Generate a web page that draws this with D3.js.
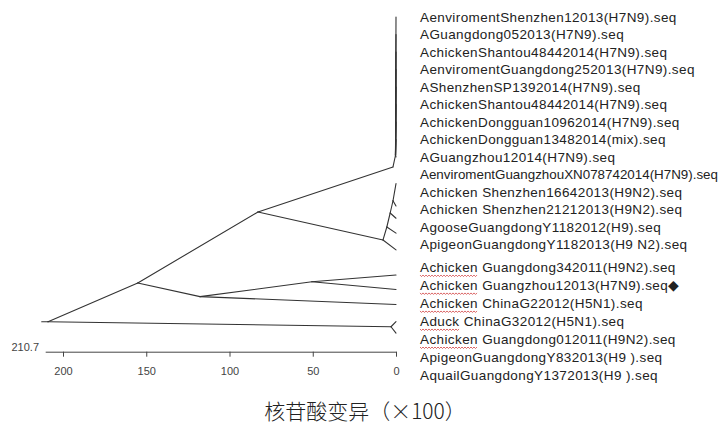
<!DOCTYPE html>
<html>
<head>
<meta charset="utf-8">
<script src="https://cdn.jsdelivr.net/npm/d3@7/dist/d3.min.js"></script>
<style>
  html, body { margin: 0; padding: 0; background: #fff; }
  svg { display: block; }
</style>
</head>
<body>
<svg id="chart" width="720" height="426"></svg>
<script>
// ---------- DATA ----------
const leafLabels = [
  "AenviromentShenzhen12013(H7N9).seq",
  "AGuangdong052013(H7N9).seq",
  "AchickenShantou48442014(H7N9).seq",
  "AenviromentGuangdong252013(H7N9).seq",
  "AShenzhenSP1392014(H7N9).seq",
  "AchickenShantou48442014(H7N9).seq",
  "AchickenDongguan10962014(H7N9).seq",
  "AchickenDongguan13482014(mix).seq",
  "AGuangzhou12014(H7N9).seq",
  "AenviromentGuangzhouXN078742014(H7N9).seq",
  "Achicken Shenzhen16642013(H9N2).seq",
  "Achicken Shenzhen21212013(H9N2).seq",
  "AgooseGuangdongY1182012(H9).seq",
  "ApigeonGuangdongY1182013(H9 N2).seq",
  "Achicken Guangdong342011(H9N2).seq",
  "Achicken Guangzhou12013(H7N9).seq◆",
  "Achicken ChinaG22012(H5N1).seq",
  "Aduck ChinaG32012(H5N1).seq",
  "Achicken Guangdong012011(H9N2).seq",
  "ApigeonGuangdongY832013(H9 ).seq",
  "AquailGuangdongY1372013(H9 ).seq"
];
// vertical position of each label, in tree-row units
const labelRows = [0,1,2,3,4,5,6,7,8,9,10,11,12,13,14.29,15.31,16.34,17.37,18.4,19.43,20.46];
// labels whose first word carries a spell-check underline
const squiggleWords = [[14,"Achicken"],[15,"Achicken"],[16,"Achicken"],[17,"Aduck"],[18,"Achicken"]];

// tree nodes: id, parent, distance (nucleotide substitutions x100), row
const nodeIds     = ["base","root","H","K","K1","K2","I","J","J1","J2","I1","G","A","A1","a0","a1","a2","a3","a4","a5","a6","a7","a8","B","B1","C","C1","D","D1","E","E1","E2"];
const nodeParents = ["",   "base","root","root","K","K","H","I","J","J","I","H","G","A","A1","A1","A1","A1","A1","A1","A1","A1","A1","G","B","B","C","C","D","D","E","E"];
const nodeDist    = [212.8,209.0,155.1,3.0,0,0,117.7,50.5,0,0,0,82.9,1.8,0.3,0,0,0,0,0,0,0,0,0,7.8,0,5.5,0,3.5,0,1.8,0,0];
const nodeRows    = [17.41,17.41,15.2,17.70,17.41,18.06,15.98,15.13,14.74,15.57,16.43,11.14,8.57,7.9,0,1,2,3,4,5,6,7,8,12.74,13.31,12.0,12.35,11.2,11.5,10.5,10.8,9.52];

const axisMax = 210.7;
const tickValues = [200,150,100,50,0];
const axisTitle = "核苷酸变异（×100）";

// ---------- DRAW ----------
const W = 720;
const svg = d3.select("#chart");
const x = d3.scaleLinear().domain([axisMax, 0]).range([45.2, 396]);
const y = d3.scaleLinear().domain([0, 20]).range([17, 367]);

const table = nodeIds.map((id, i) => ({id, parent: nodeParents[i] || null, dist: nodeDist[i], row: nodeRows[i]}));
const root = d3.stratify().id(d => d.id).parentId(d => d.parent)(table);

svg.append("g")
  .selectAll("line")
  .data(root.links())
  .join("line")
  .attr("x1", d => x(d.source.data.dist))
  .attr("y1", d => y(d.source.data.row))
  .attr("x2", d => x(d.target.data.dist))
  .attr("y2", d => y(d.target.data.row))
  .attr("stroke", "#333")
  .attr("stroke-width", 1.1)
  .attr("stroke-linecap", "round");

// axis
const axisY = 351.7;
const axis = d3.axisBottom(x).tickValues(tickValues).tickSize(5).tickSizeOuter(0).tickPadding(11);
const ax = svg.append("g").attr("transform", `translate(0,${axisY})`).call(axis);
ax.select(".domain").attr("stroke", "#444");
ax.selectAll(".tick line").attr("stroke", "#444");
ax.selectAll(".tick text")
  .attr("font-family", "Liberation Sans, Arial, sans-serif")
  .attr("font-size", 11)
  .attr("fill", "#444");

svg.append("text")
  .attr("x", 39).attr("y", axisY - 1)
  .attr("text-anchor", "end")
  .attr("font-family", "Liberation Sans, Arial, sans-serif")
  .attr("font-size", 11)
  .attr("fill", "#444")
  .text(axisMax);

// leaf labels
const labelX = 420;
const maxLabelW = W - labelX - 2;
const lab = svg.append("g")
  .attr("font-family", "'Liberation Sans', Arial, sans-serif")
  .attr("font-size", 13.5)
  .attr("letter-spacing", 0.4)
  .attr("fill", "#222");
lab.selectAll("text")
  .data(leafLabels)
  .join("text")
  .attr("x", labelX)
  .attr("y", (d, i) => y(labelRows[i]) + 4.6)
  .text(d => d)
  .each(function() {
    const len = this.getComputedTextLength();
    if (len > maxLabelW) {
      d3.select(this).attr("letter-spacing", 0)
        .attr("textLength", maxLabelW).attr("lengthAdjust", "spacingAndGlyphs");
    }
  });

// spell-check squiggles
const tmp = lab.append("text").attr("visibility", "hidden");
squiggleWords.forEach(([idx, word]) => {
  tmp.text(word);
  const w = tmp.node().getComputedTextLength();
  const by = y(labelRows[idx]) + 8.5;
  const pts = [];
  for (let px = 0, k = 0; px <= w; px += 1.5, k++) pts.push([labelX + px, by + (k % 2 ? 1 : -0.5)]);
  svg.append("path")
    .attr("d", d3.line()(pts))
    .attr("fill", "none")
    .attr("stroke", "#d04040")
    .attr("stroke-width", 0.8);
});
tmp.remove();

// axis title
svg.append("text")
  .attr("x", 365).attr("y", 419)
  .attr("text-anchor", "middle")
  .attr("font-family", "'Noto Sans CJK SC', sans-serif")
  .attr("font-size", 21)
  .attr("font-weight", 300)
  .attr("fill", "#222")
  .text(axisTitle);
</script>
</body>
</html>
